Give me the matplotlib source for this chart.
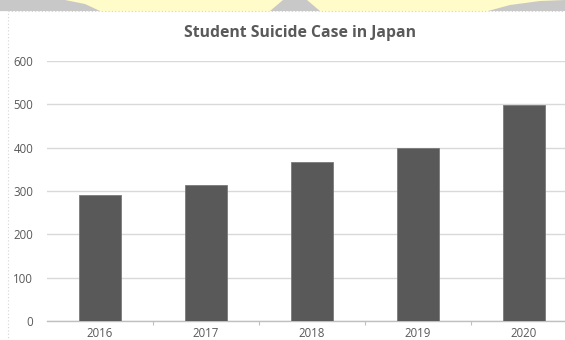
import matplotlib

matplotlib.use("Agg")
import matplotlib.pyplot as plt
from matplotlib.patches import Polygon, Rectangle

years = ["2016", "2017", "2018", "2019", "2020"]
cases = [290, 315, 368, 400, 498]
y_ticks = [0, 100, 200, 300, 400, 500, 600]

TXT = "#595959"
BAR = "#595959"
GRID = "#d9d9d9"

fig = plt.figure(figsize=(5.65, 3.40), dpi=100)
fig.patch.set_facecolor("white")

# background: yellow band with grey shapes, then the chart panel (pixel coords)
bg = fig.add_axes([0, 0, 1, 1], zorder=0)
bg.set_xlim(0, 565)
bg.set_ylim(340, 0)
bg.axis("off")
bg.add_patch(Rectangle((0, 0), 565, 12, color="#fffcc9", lw=0))
bg.add_patch(Polygon([(0, 0), (65, 0), (85, 4), (100, 11), (0, 11)], color="#c8c8c8", lw=0))
bg.add_patch(Polygon([(283, 0), (307, 0), (320, 11), (270, 11)], color="#c8c8c8", lw=0))
bg.add_patch(Polygon([(488, 11), (510, 5), (540, 1), (565, 0), (565, 11)], color="#c8c8c8", lw=0))
bg.add_patch(Rectangle((8, 11), 600, 400, facecolor="white", edgecolor="#d4d4d4",
                       lw=0.8, ls=(0, (1, 2))))

ax = fig.add_axes([47 / 565, 19 / 340, 530 / 565, 260 / 340], zorder=1)
ax.patch.set_alpha(0)
x = range(len(years))
ax.bar(x, cases, width=0.4, color=BAR, edgecolor="#7a7a7a", lw=0.6, zorder=3)
ax.set_xlim(-0.5, len(years) - 0.5)
ax.set_ylim(0, 600)
ax.set_yticks(y_ticks)
ax.set_yticklabels([str(v) for v in y_ticks], color=TXT, fontsize=8.3, family="Open Sans")
ax.set_xticks(list(x))
ax.set_xticklabels(years, color=TXT, fontsize=8.3, family="Open Sans")
ax.tick_params(axis="y", length=0, pad=10)
ax.tick_params(axis="x", length=0, pad=4)
ax.set_xticks([i + 0.5 for i in range(len(years) - 1)], minor=True)
ax.tick_params(axis="x", which="minor", length=3, color="#bfbfbf", width=0.8)
ax.grid(axis="y", color=GRID, lw=1.0, zorder=0)
for s in ("top", "right", "left"):
    ax.spines[s].set_visible(False)
ax.spines["bottom"].set_color("#bfbfbf")
ax.spines["bottom"].set_linewidth(1.0)

fig.text(300 / 565, 1 - 33 / 340, "Student Suicide Case in Japan", color=TXT,
         fontsize=11.3, fontweight="bold", family="Open Sans", ha="center", va="center")

fig.savefig("out.png", dpi=100)
